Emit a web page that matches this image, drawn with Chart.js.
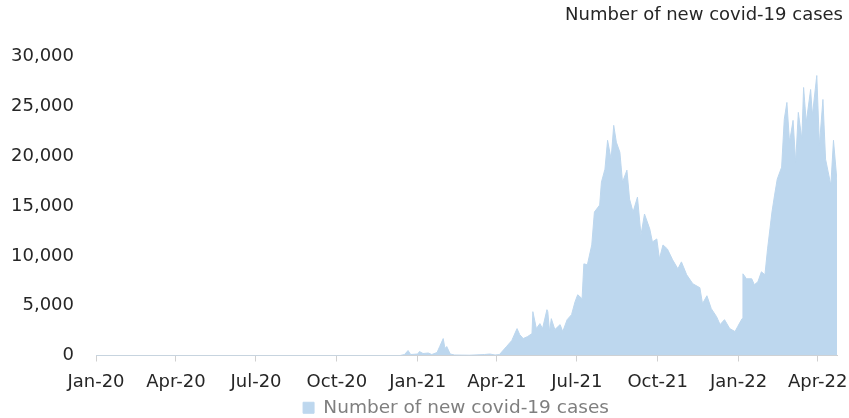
<!DOCTYPE html>
<html>
<head>
<meta charset="utf-8">
<script src="https://cdn.jsdelivr.net/npm/chart.js@4/dist/chart.umd.min.js"></script>
<style>
  html, body { margin: 0; padding: 0; background: #ffffff; }
  #wrap { width: 849px; height: 418px; position: relative; }
</style>
</head>
<body>
<div id="wrap"><canvas id="c" width="849" height="418"></canvas></div>
<script>
const seriesName = "Number of new covid-19 cases";
const chartTitle = "Number of new covid-19 cases";

const dates = [
  "2020-01-01","2020-12-12","2020-12-17","2020-12-21","2020-12-24",
  "2021-01-01","2021-01-03","2021-01-07","2021-01-13","2021-01-17",
  "2021-01-23","2021-01-26","2021-01-30","2021-02-01","2021-02-03",
  "2021-02-07","2021-02-12","2021-03-01","2021-03-18","2021-03-24",
  "2021-03-30","2021-04-04","2021-04-12","2021-04-18","2021-04-24",
  "2021-04-27","2021-05-01","2021-05-06","2021-05-11","2021-05-12",
  "2021-05-16","2021-05-20","2021-05-23","2021-05-28","2021-05-29",
  "2021-05-31","2021-06-02","2021-06-06","2021-06-12","2021-06-15",
  "2021-06-20","2021-06-25","2021-06-29","2021-07-02","2021-07-07",
  "2021-07-09","2021-07-13","2021-07-18","2021-07-21","2021-07-27",
  "2021-07-29","2021-08-02","2021-08-05","2021-08-09","2021-08-12",
  "2021-08-15","2021-08-19","2021-08-22","2021-08-27","2021-08-30",
  "2021-09-03","2021-09-08","2021-09-12","2021-09-16","2021-09-22",
  "2021-09-25","2021-09-30","2021-10-03","2021-10-07","2021-10-12",
  "2021-10-18","2021-10-24","2021-10-28","2021-11-03","2021-11-10",
  "2021-11-18","2021-11-21","2021-11-26","2021-12-01","2021-12-07",
  "2021-12-11","2021-12-16","2021-12-22","2021-12-28","2021-12-31",
  "2022-01-05","2022-01-06","2022-01-10","2022-01-16","2022-01-19",
  "2022-01-23","2022-01-27","2022-01-31","2022-02-03","2022-02-08",
  "2022-02-11","2022-02-14","2022-02-19","2022-02-22","2022-02-25",
  "2022-02-28","2022-03-04","2022-03-07","2022-03-10","2022-03-14",
  "2022-03-16","2022-03-19","2022-03-24","2022-03-26","2022-03-31",
  "2022-04-03","2022-04-07","2022-04-10","2022-04-16","2022-04-19",
  "2022-04-23"
];

const newCases = [
  0, 0, 100, 500, 100,
  150, 400, 200, 250, 100,
  300, 900, 1700, 700, 900,
  150, 50, 30, 100, 150,
  50, 100, 900, 1500, 2700,
  2100, 1700, 1900, 2200, 4400,
  2700, 3200, 2700, 4600, 4400,
  2400, 3700, 2600, 3100, 2400,
  3600, 4100, 5400, 6100, 5700,
  9200, 9100, 11100, 14400, 15100,
  17400, 18700, 21600, 19700, 23100,
  21400, 20400, 17400, 18600, 15700,
  14400, 15900, 12100, 14200, 12700,
  11400, 11700, 9700, 11100, 10700,
  9600, 8700, 9400, 8100, 7200,
  6800, 5200, 6000, 4700, 3900,
  3100, 3600, 2700, 2400, 2900,
  3700, 8200, 7700, 7700, 7100,
  7400, 8400, 8100, 10700, 14400,
  16100, 17700, 18900, 23700, 25400,
  21400, 23600, 19400, 24400, 21700,
  26900, 23400, 26700, 24100, 28100,
  21100, 25700, 19700, 17100, 21600,
  17500
];

const tickDates = [
  "2020-01-01","2020-04-01","2020-07-01","2020-10-01",
  "2021-01-01","2021-04-01","2021-07-01","2021-10-01",
  "2022-01-01","2022-04-01"
];
const tickLabels = [
  "Jan-20","Apr-20","Jul-20","Oct-20",
  "Jan-21","Apr-21","Jul-21","Oct-21",
  "Jan-22","Apr-22"
];
const yTicks = [0, 5000, 10000, 15000, 20000, 25000, 30000];

const origin = Date.UTC(2020, 0, 1);
function dayOf(s) {
  const p = s.split("-").map(Number);
  return Math.round((Date.UTC(p[0], p[1] - 1, p[2]) - origin) / 86400000);
}
const points = dates.map((d, i) => ({ x: dayOf(d), y: newCases[i] }));
const tickDays = tickDates.map(dayOf);
const lastDay = dayOf(dates[dates.length - 1]);

const FONT = "'DejaVu Sans', sans-serif";
const areaColor = "#bdd7ee";

// shift the legend so it sits where the original one does
const legendShift = {
  id: "legendShift",
  afterLayout(chart) {
    const l = chart.legend;
    if (!l) return;
    const w = l.right - l.left;
    const centre = 456;
    l.left = centre - w / 2;
    l.right = centre + w / 2;
  }
};

new Chart(document.getElementById("c"), {
  type: "line",
  data: {
    datasets: [{
      label: seriesName,
      data: points,
      parsing: false,
      fill: "origin",
      backgroundColor: areaColor,
      borderColor: areaColor,
      borderWidth: 1,
      pointRadius: 0,
      tension: 0
    }]
  },
  plugins: [legendShift],
  options: {
    responsive: false,
    animation: false,
    layout: { padding: { left: 0, right: 6, top: 0, bottom: -9 } },
    plugins: {
      title: {
        display: true,
        text: chartTitle,
        align: "end",
        color: "#262626",
        font: { family: FONT, size: 18, weight: "normal" },
        padding: { top: 5, bottom: 30 }
      },
      legend: {
        display: true,
        position: "bottom",
        labels: {
          color: "#7f7f7f",
          font: { family: FONT, size: 18.5 },
          boxWidth: 11,
          boxHeight: 11,
          padding: 2
        }
      },
      tooltip: { enabled: false }
    },
    scales: {
      x: {
        type: "linear",
        min: 0,
        max: lastDay,
        afterBuildTicks: (axis) => { axis.ticks = tickDays.map(v => ({ value: v })); },
        afterFit: (axis) => { axis.height = 41; axis.paddingLeft = 0; axis.paddingRight = 12; },
        ticks: {
          autoSkip: false,
          maxRotation: 0,
          color: "#262626",
          font: { family: FONT, size: 18 },
          padding: 10,
          callback: (v) => { const i = tickDays.indexOf(v); return i >= 0 ? tickLabels[i] : ""; }
        },
        grid: {
          display: true,
          drawOnChartArea: false,
          drawTicks: true,
          tickLength: 6,
          color: "#d0d0d0"
        },
        border: { display: true, color: "#d0d0d0", width: 1 }
      },
      y: {
        min: 0,
        max: 30000,
        afterBuildTicks: (axis) => { axis.ticks = yTicks.map(v => ({ value: v })); },
        afterFit: (axis) => { axis.width = 96; },
        ticks: {
          color: "#262626",
          font: { family: FONT, size: 18 },
          padding: 22,
          callback: (v) => v.toLocaleString("en-US")
        },
        grid: { display: false, drawTicks: false },
        border: { display: false }
      }
    }
  }
});
</script>
</body>
</html>
